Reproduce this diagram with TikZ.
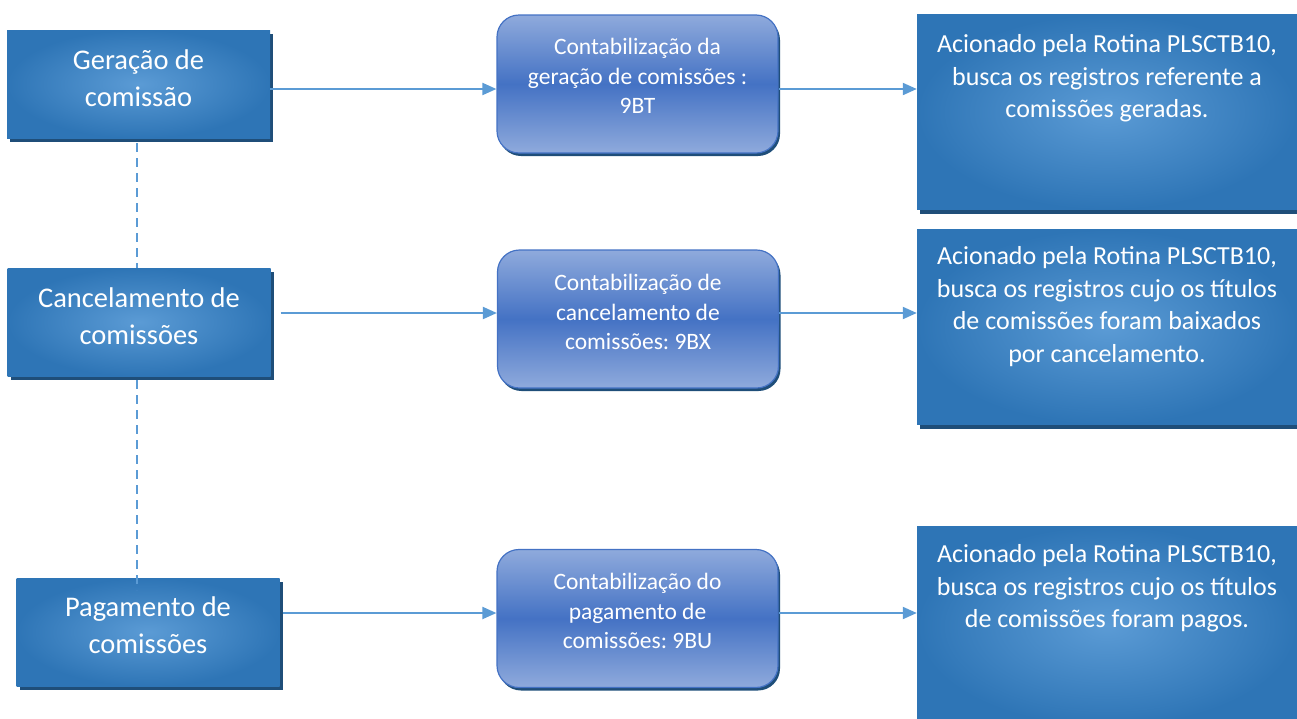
\documentclass[tikz,border=0pt]{standalone}
\usepackage{fontspec}
\setmainfont{Carlito}
\frenchspacing
\usetikzlibrary{arrows.meta,shadows}
\definecolor{boxedge}{HTML}{2E75B6}
\definecolor{boxmid}{HTML}{5B9BD5}
\definecolor{shadowc}{HTML}{1F4E79}
\definecolor{rndlight}{HTML}{8FAADC}
\definecolor{rndmid}{HTML}{4472C4}
\definecolor{linec}{HTML}{5B9BD5}
\tikzset{
  sqbox/.style={rectangle, shading=radial, inner color=boxmid, outer color=boxedge,
    draw=none, inner sep=0pt,
    drop shadow={shadow xshift=3pt, shadow yshift=-4pt, fill=shadowc, opacity=1}},
  leftbox/.style={sqbox, minimum width=263pt, minimum height=108pt},
  rightbox/.style={sqbox, minimum width=380pt, minimum height=195pt},
  rndbox/.style={rectangle, rounded corners=22pt, shading=axis, top color=rndlight,
    bottom color=rndlight, middle color=rndmid, draw=rndmid, line width=1.2pt,
    inner sep=0pt, minimum width=281pt, minimum height=138pt,
    drop shadow={shadow xshift=2pt, shadow yshift=-3pt, fill=shadowc, opacity=1}},
  ltext/.style={anchor=north, text=white, align=center, inner sep=0pt, font=\fontsize{28.5}{37}\selectfont},
  mtext/.style={anchor=north, text=white, align=center, inner sep=0pt, font=\fontsize{23.5}{29.5}\selectfont},
  rtext/.style={anchor=north, text=white, align=center, inner sep=0pt, font=\fontsize{26}{32.5}\selectfont},
  conn/.style={draw=linec, line width=2pt, -{Triangle[length=14pt,width=12pt]}},
  dashc/.style={draw=linec, line width=2pt, dash pattern=on 9pt off 6pt}
}
\begin{document}
\begin{tikzpicture}[x=1pt,y=-1pt]
\useasboundingbox (0,0) rectangle (1297,718);
% left boxes
\node[leftbox] (l1) at (138.5,84) {};
\node[leftbox] (l2) at (139,322) {};
\node[leftbox] (l3) at (148,632) {};
\node[ltext] (lt1) at (138.5,49.5) {Geração de\\comissão};
\node[ltext] (lt2) at (139,287.5) {Cancelamento de\\comissões};
\node[ltext] (lt3) at (148,596.5) {Pagamento de\\comissões};
% middle boxes
\node[rndbox] (m1) at (637.5,84) {};
\node[rndbox] (m2) at (638,319) {};
\node[rndbox] (m3) at (637.5,618.5) {};
\node[mtext] (mt1) at (637.5,38) {Contabilização da\\geração de comissões :\\9BT};
\node[mtext] (mt2) at (638,274) {Contabilização de\\cancelamento de\\comissões: 9BX};
\node[mtext] (mt3) at (637.5,573) {Contabilização do\\pagamento de\\comissões: 9BU};
% right boxes
\node[rightbox] (r1) at (1107,112) {};
\node[rightbox] (r2) at (1107,327) {};
\node[rightbox, minimum height=200pt] (r3) at (1107,626) {};
\node[rtext] (t1) at (1107,34.5) {Acionado pela Rotina PLSCTB10,\\busca os registros referente a\\comissões geradas.};
\node[rtext] (t2) at (1107,246.5) {Acionado pela Rotina PLSCTB10,\\busca os registros cujo os títulos\\de comissões foram baixados\\por cancelamento.};
\node[rtext] (t3) at (1107,544.5) {Acionado pela Rotina PLSCTB10,\\busca os registros cujo os títulos\\de comissões foram pagos.};
% dashed links
\draw[dashc] (137,143) -- (137,268);
\draw[dashc] (137,380) -- (137,590);
% connectors
\draw[conn] (l1.east |- 0,89) -- (m1.west |- 0,89);
\draw[conn] ([xshift=10pt]l2.east |- 0,313) -- (m2.west |- 0,313);
\draw[conn] ([xshift=3pt]l3.east |- 0,613) -- (m3.west |- 0,613);
\draw[conn] (m1.east |- 0,89) -- (r1.west |- 0,89);
\draw[conn] (m2.east |- 0,313) -- (r2.west |- 0,313);
\draw[conn] (m3.east |- 0,613) -- (r3.west |- 0,613);
\end{tikzpicture}
\end{document}
